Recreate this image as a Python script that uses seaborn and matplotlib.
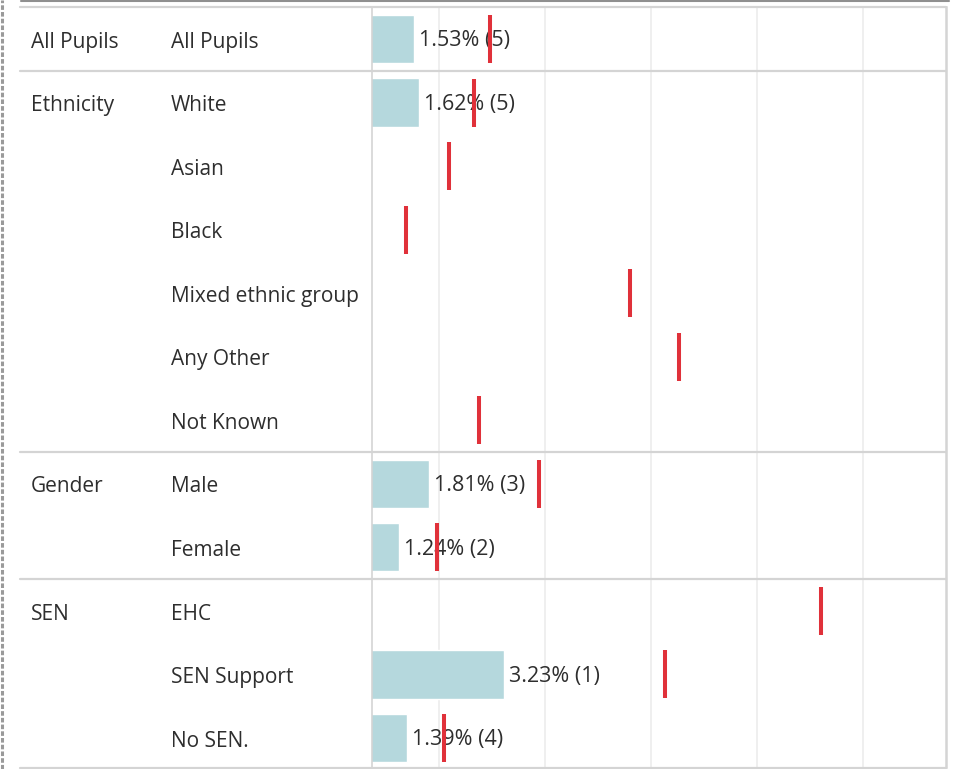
import numpy as np
import pandas as pd
import matplotlib
matplotlib.use("Agg")
import matplotlib.pyplot as plt
import matplotlib.transforms as mtransforms
from matplotlib.lines import Line2D
import seaborn as sns

# ---------------- data ----------------
groups = ["All Pupils", "Ethnicity", "Ethnicity", "Ethnicity", "Ethnicity", "Ethnicity",
          "Ethnicity", "Gender", "Gender", "SEN", "SEN", "SEN"]
categories = ["All Pupils", "White", "Asian", "Black", "Mixed ethnic group", "Any Other",
              "Not Known", "Male", "Female", "EHC", "SEN Support", "No SEN."]
rates = [1.53, 1.62, np.nan, np.nan, np.nan, np.nan, np.nan, 1.81, 1.24, np.nan, 3.23, 1.39]
counts = [5, 5, None, None, None, None, None, 3, 2, None, 1, 4]
benchmark = [2.97, 2.66, 2.19, 1.38, 5.61, 6.53, 2.76, 3.89, 1.96, 9.22, 6.27, 2.10]
grid_ticks = [2, 4, 6, 8, 10]

df = pd.DataFrame({"group": groups, "category": categories, "rate": rates,
                   "benchmark": benchmark})

# ---------------- style ----------------
sns.set_theme(style="white")
plt.rcParams["font.family"] = ["Open Sans", "DejaVu Sans"]
TEXT = "#2e2e2e"
BAR = "#b5d8dd"
RED = "#e0313a"
SEP = "#d4d4d4"
GRID = "#ececec"
FS = 15
FS_VAL = 15.5

W, H = 960, 769
fig = plt.figure(figsize=(W / 100, H / 100), dpi=100)
fig.patch.set_facecolor("white")

def fx(px):
    return px / W

def fy(py):
    return 1 - py / H

ax_left, ax_right, ax_top, ax_bot = 372, 946, 7, 767
ax = fig.add_axes([fx(ax_left), fy(ax_bot), fx(ax_right - ax_left), (ax_bot - ax_top) / H])

sns.barplot(data=df, x="rate", y="category", order=categories, color=BAR,
            width=0.76, ax=ax, orient="h", saturation=1, errorbar=None, zorder=2)

ax.set_xlim(0.739, 11.57)
ax.set_ylim(11.457, -0.504)

# grid lines
for t in grid_ticks:
    ax.axvline(t, color=GRID, lw=1.2, zorder=0)

# red reference marks
ypos = np.arange(len(categories))
ax.vlines(df["benchmark"], ypos - 0.378, ypos + 0.378, color=RED, lw=2.9, zorder=4)

# value labels
for i, (r, c) in enumerate(zip(rates, counts)):
    if not np.isnan(r):
        ax.annotate(f"{r:.2f}% ({c})", xy=(r, i + 0.03), xytext=(3.8, 0),
                    textcoords="offset points", ha="left", va="center",
                    fontsize=FS_VAL, color=TEXT, zorder=3)

ax.set_xlabel("")
ax.set_ylabel("")
ax.set_xticks([])
ax.set_yticks([])
for s in ax.spines.values():
    s.set_visible(False)
ax.spines["left"].set_visible(True)
ax.spines["left"].set_color(SEP)
ax.spines["left"].set_linewidth(1.2)
ax.spines["right"].set_visible(True)
ax.spines["right"].set_color(SEP)
ax.spines["right"].set_linewidth(1.8)

# row text labels (x in figure, y in data)
blend = mtransforms.blended_transform_factory(fig.transFigure, ax.transData)
prev = None
for i, (g, c) in enumerate(zip(groups, categories)):
    if g != prev:
        ax.text(fx(31), i + 0.05, g, transform=blend, ha="left", va="center", fontsize=FS,
                color=TEXT, clip_on=False)
    ax.text(fx(171), i + 0.05, c, transform=blend, ha="left", va="center", fontsize=FS,
            color=TEXT, clip_on=False)
    prev = g

# group separators
for i in range(1, len(groups)):
    if groups[i] != groups[i - 1]:
        fig.add_artist(Line2D([fx(20), fx(946)], [i - 0.5, i - 0.5], transform=blend,
                              color=SEP, lw=1.6))

# frame lines
fig.add_artist(Line2D([fx(20), fx(946)], [fy(7), fy(7)], color=SEP, lw=1.6))
fig.add_artist(Line2D([fx(20), fx(946)], [fy(767.5), fy(767.5)], color=SEP, lw=1.6))
fig.add_artist(Line2D([fx(21), fx(949)], [fy(1), fy(1)], color="#8f8f8f", lw=1.5))
fig.add_artist(Line2D([fx(1.5), fx(1.5)], [0, 1], color="#9a9a9a", lw=2.2,
                      linestyle=(0, (1.5, 0.7))))

fig.savefig("out.png", dpi=100, facecolor="white")
